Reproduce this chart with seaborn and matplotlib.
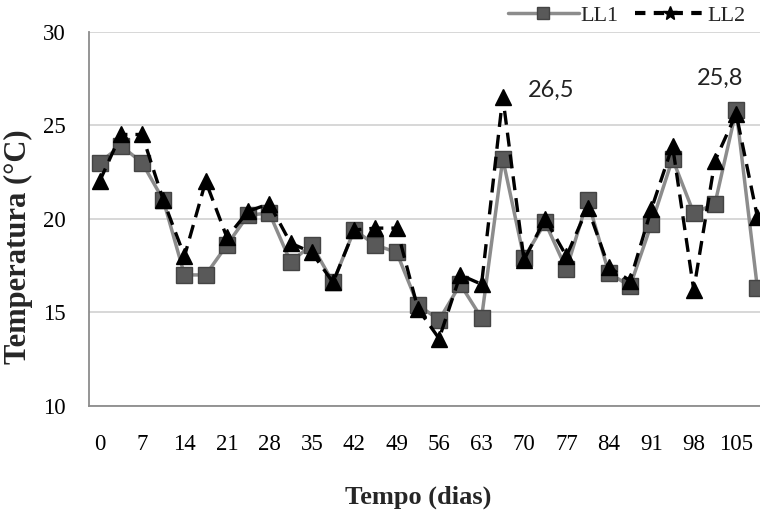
import matplotlib
matplotlib.use("Agg")
import matplotlib.pyplot as plt
from matplotlib.lines import Line2D
from matplotlib.ticker import FixedLocator, MultipleLocator
import pandas as pd
import seaborn as sns

# Temperatura medida a cada 3,5 dias nos dois leitos (LL1 e LL2)
dias = [0, 3.5, 7, 10.5, 14, 17.5, 21, 24.5, 28, 31.5, 35, 38.5, 42, 45.5,
        49, 52.5, 56, 59.5, 63, 66.5, 70, 73.5, 77, 80.5, 84, 87.5, 91, 94.5,
        98, 101.5, 105, 108.5]
ll1 = [23.0, 23.9, 23.0, 21.0, 17.0, 17.0, 18.6, 20.2, 20.3, 17.7, 18.6, 16.6,
       19.4, 18.6, 18.2, 15.4, 14.6, 16.5, 14.7, 23.2, 17.9, 19.8, 17.3, 21.0,
       17.1, 16.4, 19.7, 23.2, 20.3, 20.8, 25.8, 16.3]
ll2 = [22.0, 24.5, 24.5, 21.0, 18.0, 22.0, 19.0, 20.4, 20.8, 18.7, 18.2, 16.6,
       19.4, 19.5, 19.5, 15.2, 13.6, 17.0, 16.5, 26.5, 17.8, 20.0, 18.0, 20.6,
       17.4, 16.7, 20.5, 23.9, 16.2, 23.1, 25.6, 20.1]
rotulos_x = [0, 7, 14, 21, 28, 35, 42, 49, 56, 63, 70, 77, 84, 91, 98, 105]
yticks = [10, 15, 20, 25, 30]

# Valores destacados: (série, dia)
destaques = [("LL2", 66.5), ("LL1", 105)]

df = pd.DataFrame({"dias": dias, "LL1": ll1, "LL2": ll2})

sns.set_style("white")
serif = "Liberation Serif"
plt.rcParams["font.family"] = [serif, "DejaVu Serif"]

fig = plt.figure(figsize=(7.6, 5.14), dpi=100)
ax = fig.add_axes([89 / 760, 108 / 514, 679 / 760, 374.5 / 514])

cinza_linha = "#8c8c8c"
cinza_marca = "#595959"

sns.lineplot(data=df, x="dias", y="LL1", ax=ax, color=cinza_linha,
             linewidth=2.5, marker="s", markersize=11,
             markerfacecolor=cinza_marca, markeredgecolor="#444444",
             markeredgewidth=1.0, zorder=3, legend=False)
sns.lineplot(data=df, x="dias", y="LL2", ax=ax, color="black",
             linewidth=2.4, linestyle=(0, (4.2, 2.4)), marker="^",
             markersize=11, markerfacecolor="black", markeredgecolor="black",
             markeredgewidth=1.0, zorder=4, legend=False)

# Eixos
passo = 3.5
ax.set_xlim(dias[0] - passo / 2, dias[-1] + passo / 2)
ax.set_ylim(10, 30)
ax.xaxis.set_major_locator(FixedLocator(rotulos_x))
ax.set_xticklabels([str(v) for v in rotulos_x])
ax.xaxis.set_minor_locator(FixedLocator([r + passo for r in rotulos_x[:-1]]))
ax.yaxis.set_major_locator(FixedLocator(yticks))
ax.yaxis.set_minor_locator(MultipleLocator(2.5))

ax.grid(axis="y", which="major", color="#d4d4d4", linewidth=1.3, zorder=0)
ax.set_axisbelow(True)
for lado in ("top", "right"):
    ax.spines[lado].set_visible(False)
for lado in ("left", "bottom"):
    ax.spines[lado].set_color(cinza_linha)
    ax.spines[lado].set_linewidth(1.3)

ax.tick_params(axis="both", which="major", length=0, labelsize=16.5,
               colors="black")
ax.tick_params(axis="y", which="major", pad=17)
ax.tick_params(axis="x", which="major", pad=20)
ax.tick_params(axis="both", which="minor", direction="in", color=cinza_linha,
               width=1.1)
ax.tick_params(axis="x", which="minor", length=5)
ax.tick_params(axis="y", which="minor", length=4)

ax.set_xlabel("Tempo (dias)", fontsize=19, fontweight="bold")
ax.set_ylabel("Temperatura (°C)", fontsize=22, fontweight="bold")
ax.xaxis.set_label_coords((418 - 89) / 679, (406 - 497) / 374.5)
ax.xaxis.label.set_verticalalignment("center")
ax.yaxis.set_label_coords((18 - 89) / 679, (406 - 247) / 374.5)
ax.yaxis.label.set_verticalalignment("center")

# Rótulos dos valores máximos
deslocamentos = {"LL2": (48, 7), "LL1": (-16, 32)}
for serie, dia in destaques:
    valor = df.loc[df["dias"] == dia, serie].iloc[0]
    ax.annotate(f"{valor:.1f}".replace(".", ","), xy=(dia, valor),
                xytext=deslocamentos[serie], textcoords="offset pixels",
                ha="center", va="center", fontsize=17,
                family=["Lato", "DejaVu Sans"], color="#222222", zorder=5)

# Legenda
alcas = [
    Line2D([], [], color=cinza_linha, linewidth=2.5, marker="s",
           markersize=9, markerfacecolor=cinza_marca,
           markeredgecolor="#444444"),
    Line2D([], [], color="black", linewidth=3, linestyle=(0, (2.5, 2.0)),
           marker="*", markersize=10, markerfacecolor="black",
           markeredgecolor="black"),
]
fig.legend(alcas, ["LL1", "LL2"], loc="center right",
           bbox_to_anchor=(746 / 760, 1 - 16 / 514), ncol=2, frameon=False,
           fontsize=16, handlelength=3.2, handletextpad=0.1,
           columnspacing=0.7, borderpad=0, borderaxespad=0)

fig.savefig("out.png", dpi=100)
